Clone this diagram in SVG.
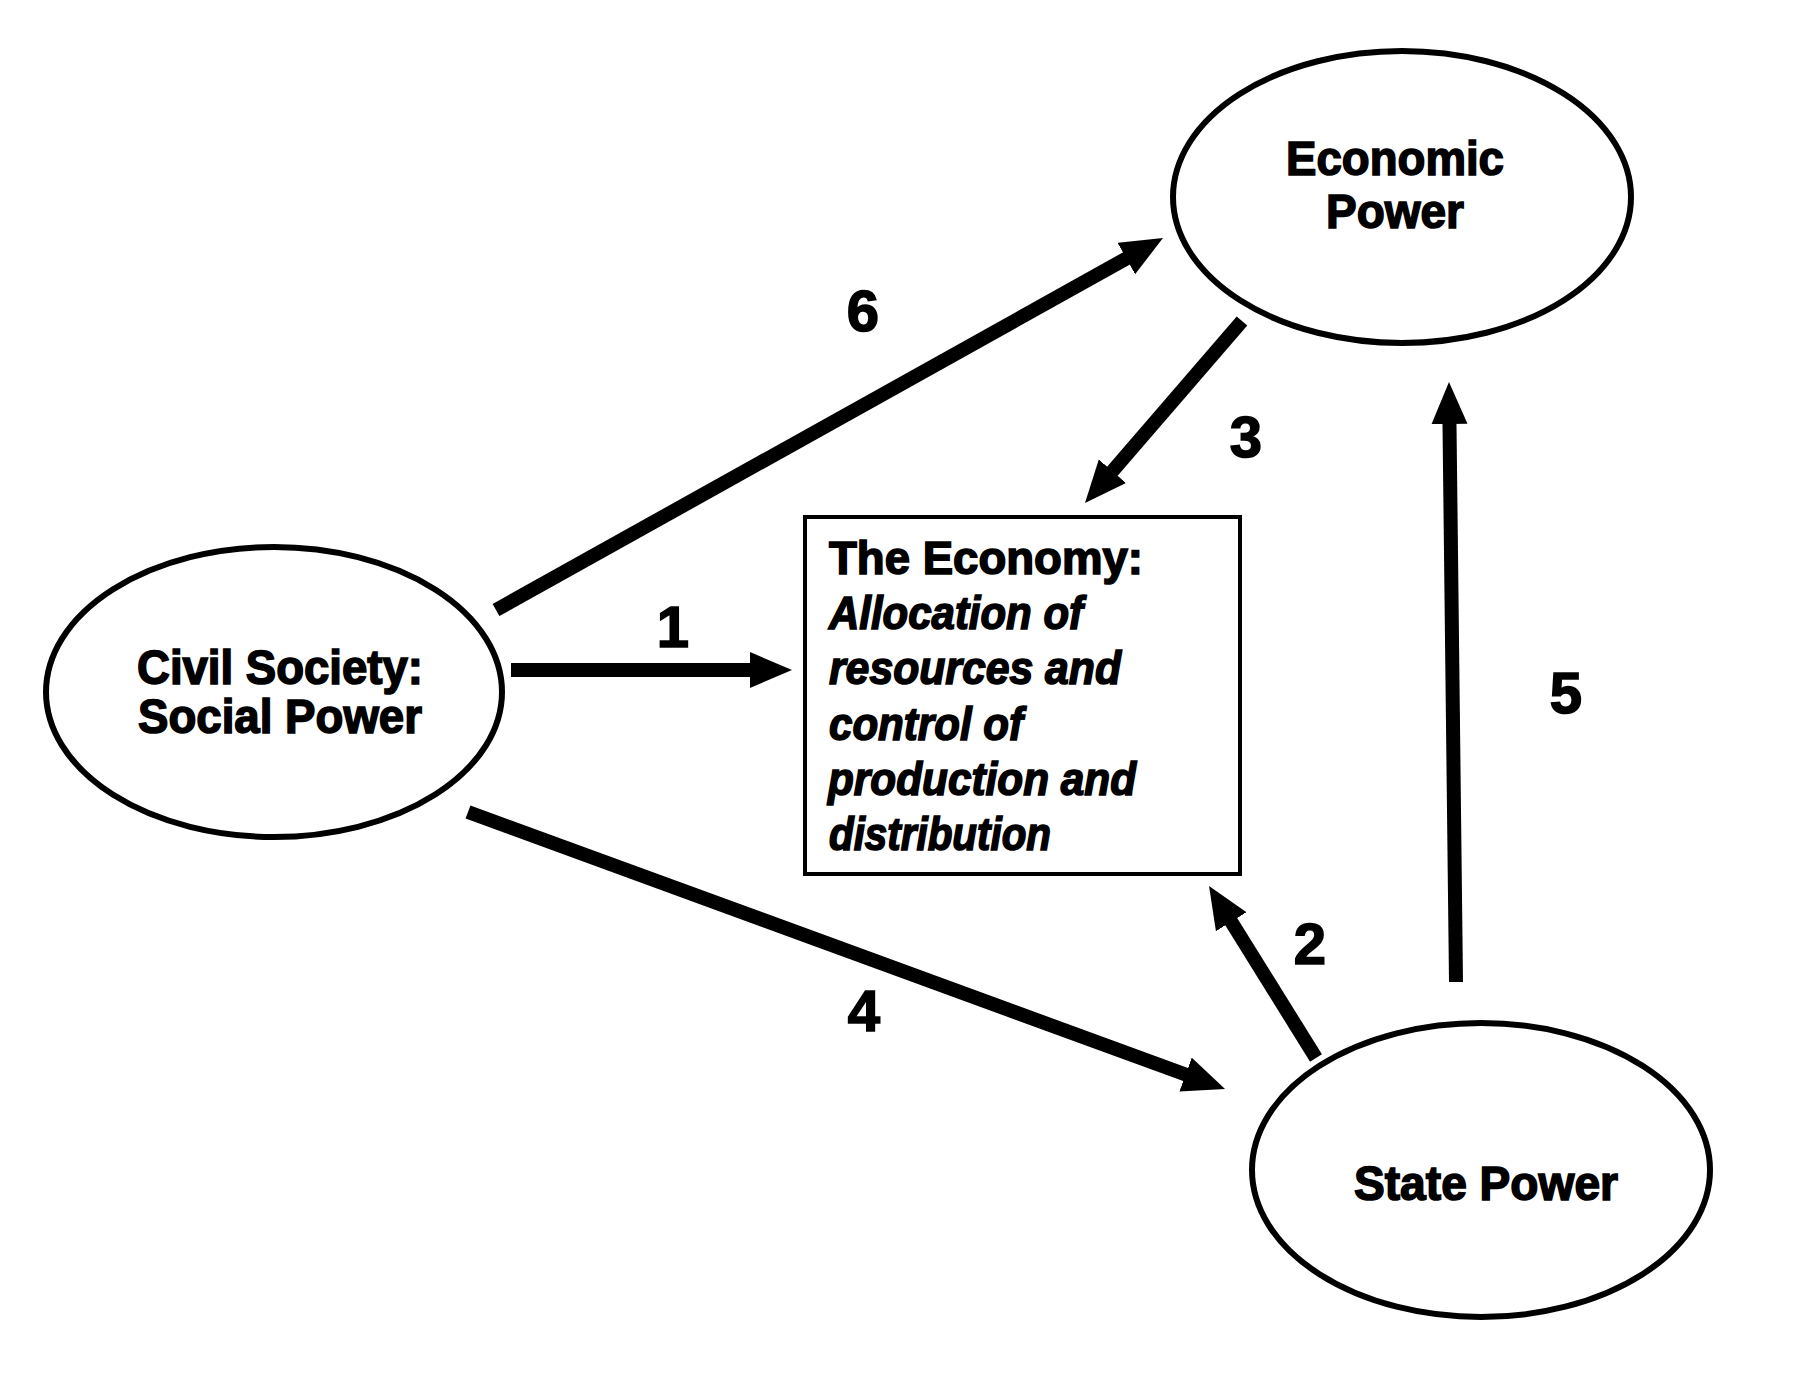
<svg xmlns="http://www.w3.org/2000/svg" width="1800" height="1374" viewBox="0 0 1800 1374">
<style>
.node{fill:#fff;stroke:#000;stroke-width:6}
.box{fill:#fff;stroke:#000;stroke-width:4}
.t{font-family:"Liberation Sans",Arial,Helvetica,sans-serif;font-weight:bold;font-size:48px;fill:#000;stroke:#000;stroke-width:1.6}
.bt{font-family:"Liberation Sans",Arial,Helvetica,sans-serif;font-weight:bold;font-size:46px;fill:#000;stroke:#000;stroke-width:1.6}
.it{font-style:italic}
.num{font-family:"Liberation Sans",Arial,Helvetica,sans-serif;font-weight:bold;font-size:58px;fill:#000;stroke:#000;stroke-width:1.6;text-anchor:middle}
.arr{stroke:#000;stroke-width:14;fill:none;stroke-linecap:butt}
</style>
<defs>
<marker id="ah" markerUnits="userSpaceOnUse" markerWidth="44" markerHeight="38" refX="8" refY="18" orient="auto">
<path d="M0,0 L42,18 L0,36 z" fill="#000"/>
</marker>
</defs>
<rect width="1800" height="1374" fill="#fff"/>
<g id="civil-society">
<ellipse class="node" cx="274" cy="692" rx="228" ry="145"/>
<text class="t" x="137" y="684" textLength="286" lengthAdjust="spacingAndGlyphs">Civil Society:</text>
<text class="t" x="138" y="733" textLength="284" lengthAdjust="spacingAndGlyphs">Social Power</text>
</g>
<g id="economic-power">
<ellipse class="node" cx="1402" cy="197" rx="229" ry="146"/>
<text class="t" x="1286" y="175" textLength="218" lengthAdjust="spacingAndGlyphs">Economic</text>
<text class="t" x="1326" y="228" textLength="138" lengthAdjust="spacingAndGlyphs">Power</text>
</g>
<g id="state-power">
<ellipse class="node" cx="1481" cy="1170" rx="229" ry="147"/>
<text class="t" x="1354" y="1200" textLength="264" lengthAdjust="spacingAndGlyphs">State Power</text>
</g>
<g id="economy">
<rect class="box" x="805" y="517" width="435" height="357"/>
<text class="bt" x="829" y="574" textLength="314" lengthAdjust="spacingAndGlyphs">The Economy:</text>
<text class="bt it" x="829" y="629" textLength="254" lengthAdjust="spacingAndGlyphs">Allocation of</text>
<text class="bt it" x="829" y="684" textLength="292" lengthAdjust="spacingAndGlyphs">resources and</text>
<text class="bt it" x="829" y="740" textLength="194" lengthAdjust="spacingAndGlyphs">control of</text>
<text class="bt it" x="828" y="795" textLength="308" lengthAdjust="spacingAndGlyphs">production and</text>
<text class="bt it" x="829" y="850" textLength="222" lengthAdjust="spacingAndGlyphs">distribution</text>
</g>
<g id="connectors">
<line class="arr" x1="511" y1="670" x2="758" y2="670" marker-end="url(#ah)"/>
<line class="arr" x1="496" y1="610" x2="1133.3" y2="254.6" marker-end="url(#ah)"/>
<line class="arr" x1="1242" y1="321" x2="1107.2" y2="477.3" marker-end="url(#ah)"/>
<line class="arr" x1="1456" y1="982" x2="1449.4" y2="416" marker-end="url(#ah)"/>
<line class="arr" x1="1316" y1="1058" x2="1227" y2="914.9" marker-end="url(#ah)"/>
<line class="arr" x1="468" y1="812" x2="1193.1" y2="1077.3" marker-end="url(#ah)"/>
<text class="num" x="673" y="647">1</text>
<text class="num" x="1310" y="964">2</text>
<text class="num" x="1246" y="457">3</text>
<text class="num" x="864" y="1031">4</text>
<text class="num" x="1566" y="713">5</text>
<text class="num" x="863" y="331">6</text>
</g>
</svg>
